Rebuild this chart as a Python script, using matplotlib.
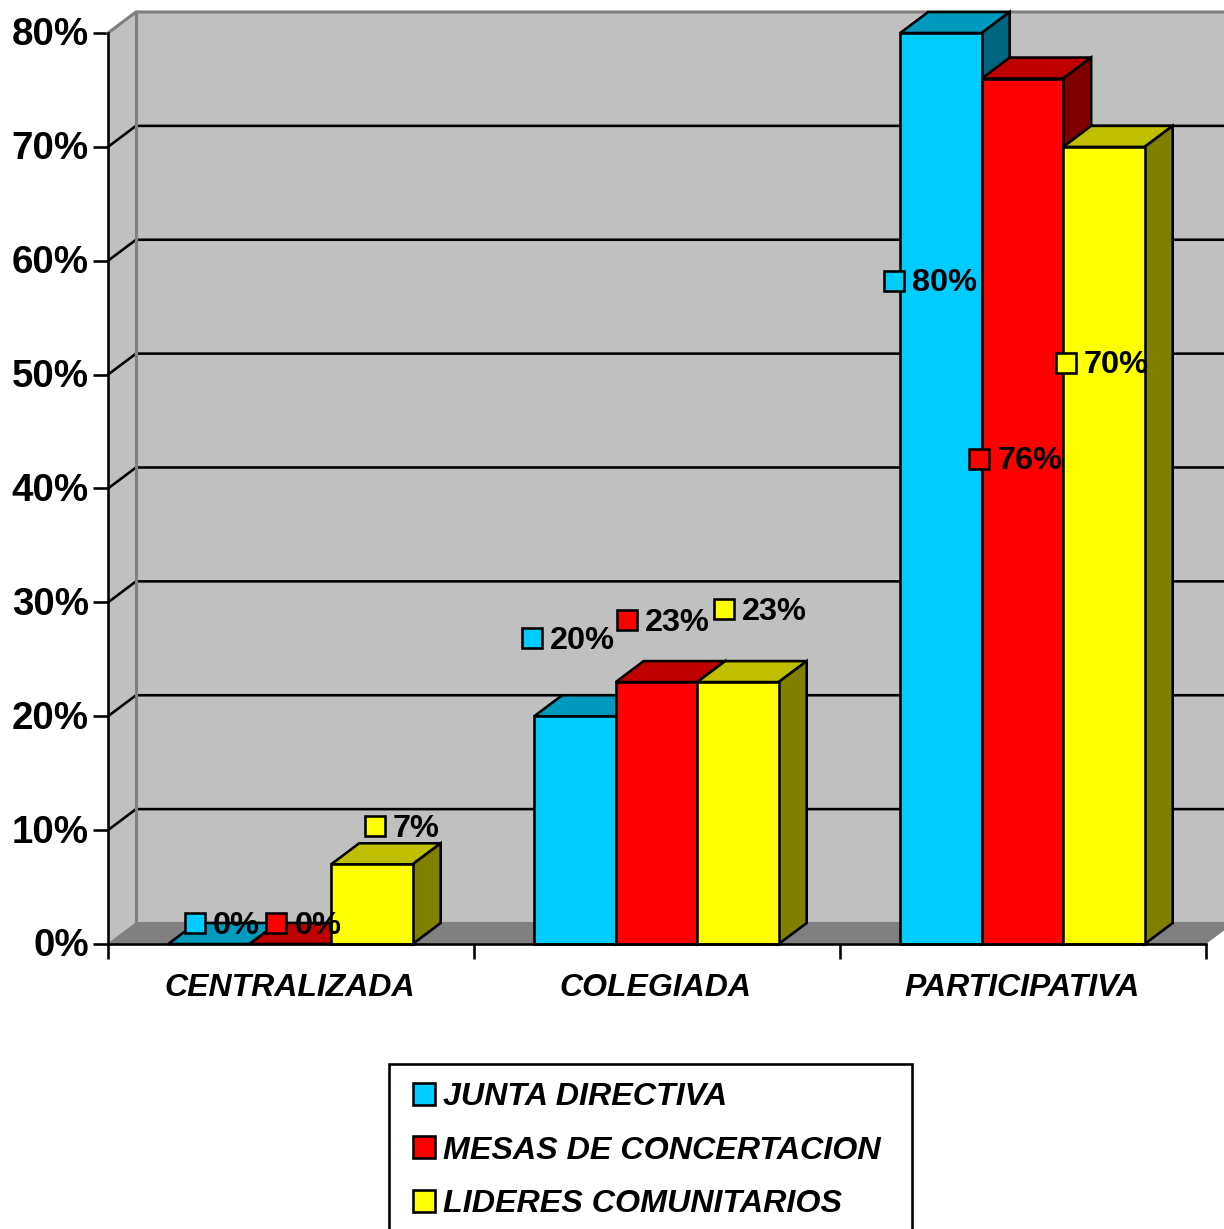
import matplotlib
matplotlib.use("Agg")
import matplotlib.pyplot as plt
from matplotlib.patches import Polygon, Patch, Rectangle
from matplotlib.legend_handler import HandlerPatch
from matplotlib.transforms import offset_copy, ScaledTranslation

plt.rcParams['font.family'] = ['Liberation Sans', 'DejaVu Sans']

categories = ['CENTRALIZADA', 'COLEGIADA', 'PARTICIPATIVA']
series_names = ['JUNTA DIRECTIVA', 'MESAS DE CONCERTACION', 'LIDERES COMUNITARIOS']
junta = [0, 20, 80]
mesas = [0, 23, 76]
lideres = [7, 23, 70]
y_ticks = [0, 10, 20, 30, 40, 50, 60, 70, 80]

series = [junta, mesas, lideres]
front_cols = ['#00CCFF', '#FF0000', '#FFFF00']
top_cols = ['#009ABF', '#BF0000', '#BFBF00']
side_cols = ['#006680', '#800000', '#808000']
# pixel offset of each value label's key from the top-centre of its bar
label_offsets = [
    [(-14, 21), (-43, 78), (-47, -248)],
    [(-14, 21), (-29, 62), (-43, -380)],
    [(3, 38), (-14, 73), (-38, -216)],
]

W, H = 1224, 1229
fig = plt.figure(figsize=(W / 100, H / 100), dpi=100, facecolor='white')
L, R, B, T = 108, 1206, 944, 33
ax = fig.add_axes([L / W, 1 - B / H, (R - L) / W, (B - T) / H])
ax.set_xlim(0, 3)
ax.set_ylim(0, 80)
ax.patch.set_visible(False)

px = 2.6 * 0.72  # line width in points
dx = 28 / 366
dy = 21 / (911 / 80)
GREY = '#808080'
WALL = '#C0C0C0'

# walls and floor
ax.add_patch(Polygon([(dx, dy), (3 + dx, dy), (3 + dx, 80 + dy), (dx, 80 + dy)],
                     fc=WALL, ec='none', clip_on=False, zorder=1))
ax.add_patch(Polygon([(0, 0), (dx, dy), (dx, 80 + dy), (0, 80)],
                     fc=WALL, ec='none', clip_on=False, zorder=1))
ax.add_patch(Polygon([(0, 0), (3, 0), (3 + dx, dy), (dx, dy)],
                     fc=GREY, ec='none', clip_on=False, zorder=1))
for v in y_ticks[1:-1]:
    ax.plot([0, dx, 3 + dx], [v, v + dy, v + dy], color='black', lw=px,
            clip_on=False, zorder=2, solid_joinstyle='miter')
ax.plot([0, dx, 3 + dx], [80, 80 + dy, 80 + dy], color=GREY, lw=px * 1.2, clip_on=False, zorder=2)
ax.plot([dx, 3 + dx], [dy, dy], color=GREY, lw=px * 1.2, clip_on=False, zorder=2)
ax.plot([0, dx], [0, dy], color=GREY, lw=px * 0.5, clip_on=False, zorder=2)
ax.plot([dx, dx], [dy, 80 + dy], color=GREY, lw=px * 1.2, clip_on=False, zorder=2)

# bars
bw = 81.5 / 366
z = 3
for k, vals in enumerate(series):
    for i, v in enumerate(vals):
        x0 = i + 0.4985 + (k - 1.5) * bw
        x1 = x0 + bw
        ax.add_patch(Polygon([(x0, v), (x1, v), (x1 + dx, v + dy), (x0 + dx, v + dy)],
                             fc=top_cols[k], ec='black', lw=px, clip_on=False, zorder=z,
                             joinstyle='miter'))
        ax.add_patch(Polygon([(x1, 0), (x1 + dx, dy), (x1 + dx, v + dy), (x1, v)],
                             fc=side_cols[k], ec='black', lw=px, clip_on=False, zorder=z,
                             joinstyle='miter'))
        if v > 0:
            ax.bar(x0, v, width=bw, align='edge', color=front_cols[k], edgecolor='black',
                   linewidth=px, clip_on=False, zorder=z + 0.5)
    z += 1

# value labels with legend keys
for k, vals in enumerate(series):
    for i, v in enumerate(vals):
        x = i + 0.498 + (k - 1) * bw
        ox, oy = label_offsets[k][i]
        tm = offset_copy(ax.transData, fig=fig, x=ox, y=oy, units='dots')
        tt = offset_copy(ax.transData, fig=fig, x=ox + 18, y=oy + 1, units='dots')
        ax.plot([x], [v], marker='s', ms=14.6, mfc=front_cols[k], mec='black', mew=px,
                transform=tm, clip_on=False, zorder=10)
        ax.text(x, v, f'{v}%', transform=tt, fontsize=23.4, fontweight='bold',
                ha='left', va='center_baseline', color='black', clip_on=False, zorder=11)

# axes
for s in ['top', 'right']:
    ax.spines[s].set_visible(False)
for s in ['left', 'bottom']:
    ax.spines[s].set_linewidth(px)
    ax.spines[s].set_color('black')
    ax.spines[s].set_zorder(9)
ax.set_yticks(y_ticks)
ax.set_yticklabels([f'{v}%' for v in y_ticks], fontsize=27.7, fontweight='bold')
ax.tick_params(axis='y', length=10.8, width=px, pad=2.9)
shift = ScaledTranslation(0, 1.5 / 100, fig.dpi_scale_trans)
for lab in ax.get_yticklabels():
    lab.set_transform(lab.get_transform() + shift)
ax.set_xticks([0, 1, 2, 3])
ax.set_xticklabels([])
ax.tick_params(axis='x', which='major', length=10.8, width=px)
ax.set_xticks([0.4975, 1.497, 2.497], minor=True)
ax.set_xticklabels(categories, minor=True, fontsize=23, fontweight='bold', fontstyle='italic')
ax.tick_params(axis='x', which='minor', length=0, pad=20.7)

# legend (runs off the bottom of the canvas as in the source)
fs = 23.2
em = fs / 0.72
key = 22 * 0.72
inset = 6


def key_patch(legend, orig_handle, xdescent, ydescent, width, height, fontsize):
    return Rectangle((width - key - xdescent, (height - key) / 2 - ydescent), key, key)


handles = [Patch(fc=c, ec='black', lw=px) for c in front_cols]
leg = fig.legend(handles, series_names, loc='upper left', mode='expand',
                 bbox_to_anchor=(389 / W, 1 - 1064 / H, 523 / W, 0), borderaxespad=0,
                 fancybox=False, framealpha=1, edgecolor='black',
                 prop={'size': fs, 'weight': 'bold', 'style': 'italic'},
                 handler_map={Patch: HandlerPatch(patch_func=key_patch)},
                 handlelength=(22 + inset) / em, handleheight=22 / em,
                 handletextpad=8 / em, labelspacing=0.735, borderpad=0.555)
leg.get_frame().set_linewidth(px)

fig.savefig('out.png', dpi=100, facecolor='white')
